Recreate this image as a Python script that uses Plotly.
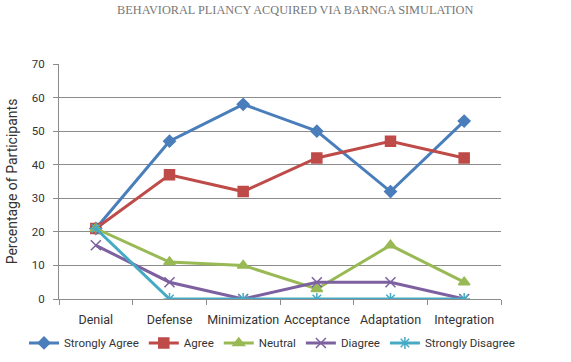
import plotly.graph_objects as go

categories = ["Denial", "Defense", "Minimization", "Acceptance", "Adaptation", "Integration"]
strongly_agree = [21, 47, 58, 50, 32, 53]
agree = [21, 37, 32, 42, 47, 42]
neutral = [21, 11, 10, 3, 16, 5]
diagree = [16, 5, 0, 5, 5, 0]
strongly_disagree = [21, 0, 0, 0, 0, 0]

series = [
    ("Strongly Agree", strongly_agree, "#4A7EBB", "diamond", 9),
    ("Agree", agree, "#BE4B48", "square", 10),
    ("Neutral", neutral, "#98B954", "triangle-up", 10),
    ("Diagree", diagree, "#7D60A0", "x-thin-open", 10),
    ("Strongly Disagree", strongly_disagree, "#46AAC5", "asterisk-open", 10),
]

fig = go.Figure()
for name, vals, color, sym, size in series:
    fig.add_trace(go.Scatter(
        x=categories, y=vals, name=name, mode="lines+markers",
        line=dict(color=color, width=3),
        marker=dict(symbol=sym, size=size, color=color,
                    line=dict(color=color, width=1.5)),
    ))

fig.update_layout(
    width=571, height=362,
    margin=dict(l=59, r=70, t=64, b=63, autoexpand=False),
    paper_bgcolor="white", plot_bgcolor="white",
    font=dict(family="Roboto", size=11, color="#333333"),
    title=dict(text="BEHAVIORAL PLIANCY ACQUIRED VIA BARNGA SIMULATION",
               x=0.517, xanchor="center", y=0.972, yanchor="middle",
               font=dict(family="Liberation Serif", size=12.3, color="#777777")),
    legend=dict(orientation="h", x=1.043, xanchor="right",
                y=-0.187, yanchor="middle",
                font=dict(family="Roboto", size=11.5, color="#333333"), itemwidth=30,
                tracegroupgap=0, bgcolor="rgba(0,0,0,0)"),
    showlegend=True,
)
fig.update_xaxes(
    showgrid=False, showline=True, linecolor="#8c8c8c", linewidth=1,
    ticks="outside", tickson="boundaries", ticklen=5, tickcolor="#8c8c8c",
    tickangle=0, ticklabelstandoff=9,
    tickfont=dict(family="Roboto", size=12.5, color="#333333"), range=[-0.5, 5.5],
)
fig.update_yaxes(
    range=[0, 70], dtick=10, showgrid=True, gridcolor="#8c8c8c", gridwidth=1,
    showline=True, linecolor="#8c8c8c", ticks="outside", ticklen=5, tickcolor="#8c8c8c",
    ticklabelstandoff=6,
    tickfont=dict(size=11.5, color="#333333"), zeroline=False,
    title=dict(text="Percentage of Participants", font=dict(size=14, color="#333333"), standoff=10),
)
fig.write_html("out.html", config={"displayModeBar": False},
               post_script="document.body.style.margin='0';")
